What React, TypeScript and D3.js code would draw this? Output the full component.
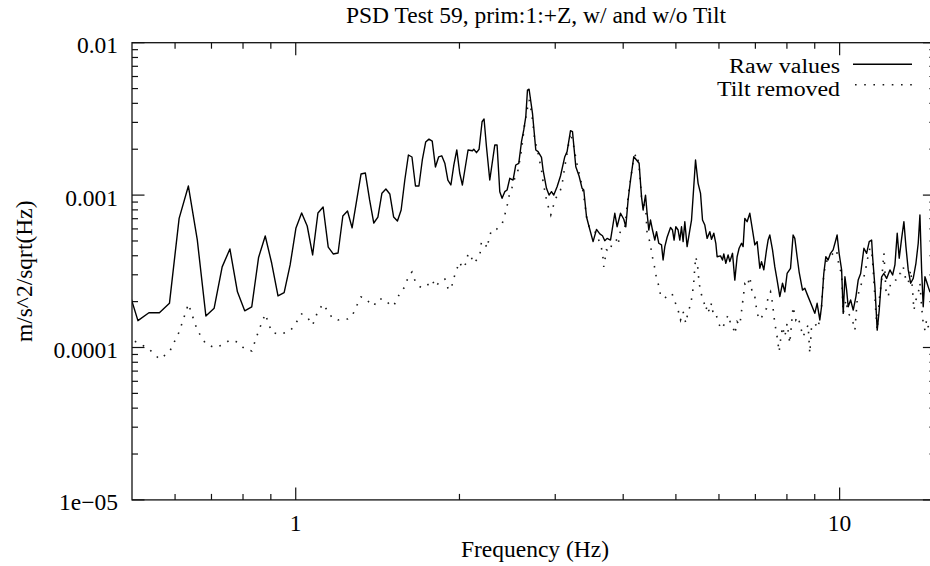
import React from "react";
import * as d3 from "d3";

// ---- Data ----
// Low-frequency part: FFT bins (df ≈ 0.0244 Hz) shared by both series
const lowFreq = [
  0.4883, 0.5127, 0.5371, 0.5615, 0.5859, 0.6104, 0.6348, 0.6592, 0.6836, 0.708,
  0.7324, 0.7568, 0.7813, 0.8057, 0.8301, 0.8545, 0.8789, 0.9033, 0.9277, 0.9521,
  0.9766, 1.001, 1.0254, 1.0498, 1.0742, 1.0986, 1.123, 1.1475, 1.1719, 1.1963,
  1.2207, 1.2451, 1.2695, 1.2939, 1.3184, 1.3428, 1.3672, 1.3916, 1.416, 1.4404,
  1.4648, 1.4893, 1.5137, 1.5381, 1.5625, 1.5869, 1.6113, 1.6357, 1.6602, 1.6846,
  1.709, 1.7334, 1.7578, 1.7822, 1.8066, 1.8311, 1.8555, 1.8799, 1.9043, 1.9287,
  1.9531, 1.9775, 2.002,
];
const rawLow = [
  2.64e-4, 1.5e-4, 1.69e-4, 1.69e-4, 1.95e-4, 7.04e-4, 1.147e-3, 5.08e-4, 1.61e-4, 1.81e-4,
  3.38e-4, 4.43e-4, 2.32e-4, 1.74e-4, 1.85e-4, 3.9e-4, 5.39e-4, 3.57e-4, 2.18e-4, 2.29e-4,
  3.48e-4, 6.09e-4, 7.63e-4, 6.27e-4, 4.05e-4, 7.63e-4, 8.35e-4, 4.56e-4, 4.11e-4, 4.17e-4,
  7.29e-4, 7.86e-4, 6.09e-4, 9.15e-4, 1.375e-3, 1.396e-3, 9.29e-4, 6.56e-4, 7.18e-4, 1.03e-3,
  1.096e-3, 1.017e-3, 7.18e-4, 6.76e-4, 7.98e-4, 1.256e-3, 1.833e-3, 1.778e-3, 1.147e-3, 1.147e-3,
  1.7e-3, 2.23e-3, 2.33e-3, 2.26e-3, 1.53e-3, 1.78e-3, 1.81e-3, 1.62e-3, 1.256e-3, 1.165e-3,
  1.58e-3, 1.98e-3, 1.396e-3,
];
const tiltLow = [
  1.154e-4, 1.078e-4, 9.78e-5, 8.4e-5, 9.34e-5, 1.264e-4, 1.93e-4, 1.3e-4, 1.054e-4, 1.0e-4,
  1.038e-4, 1.12e-4, 1.087e-4, 9.78e-5, 9.49e-5, 1.283e-4, 1.66e-4, 1.264e-4, 1.226e-4, 1.245e-4,
  1.283e-4, 1.448e-4, 1.66e-4, 1.585e-4, 1.405e-4, 1.735e-4, 1.93e-4, 1.71e-4, 1.537e-4, 1.515e-4,
  1.537e-4, 1.537e-4, 1.61e-4, 1.873e-4, 2.145e-4, 2.113e-4, 1.958e-4, 1.873e-4, 2.081e-4, 2.081e-4,
  2.05e-4, 1.9e-4, 1.873e-4, 2.113e-4, 2.35e-4, 2.49e-4, 2.94e-4, 3.13e-4, 2.69e-4, 2.53e-4,
  2.455e-4, 2.53e-4, 2.61e-4, 2.77e-4, 2.49e-4, 2.65e-4, 2.77e-4, 2.81e-4, 2.455e-4, 2.385e-4,
  2.86e-4, 3.27e-4, 3.64e-4,
];

// High-frequency part: vertices
const rawHiFreq = [
  2.025, 2.0742, 2.1133, 2.1249, 2.1495, 2.1732, 2.201, 2.2195, 2.2423, 2.2739,
  2.3226, 2.3453, 2.3723, 2.3955, 2.4231, 2.4468, 2.4749, 2.5096, 2.5386, 2.5708,
  2.6007, 2.6258, 2.6484, 2.6674, 2.6857, 2.7246, 2.763, 2.7898, 2.8305, 2.8495,
  2.891, 2.9227, 2.9528, 2.9815, 3.0237, 3.0676, 3.124, 3.1545, 3.2004, 3.2274,
  3.273, 3.3186, 3.3613, 3.3853, 3.4245, 3.4622, 3.5214, 3.5727, 3.623, 3.6645,
  3.7005, 3.7366, 3.791, 3.8606, 3.8983, 3.955, 4.0102, 4.0447, 4.084, 4.1261,
  4.1837, 4.2321, 4.2787, 4.3227, 4.3518, 4.3966, 4.4263, 4.4579, 4.4907, 4.5286,
  4.5731, 4.6061, 4.6508, 4.7047, 4.7364, 4.7709, 4.8175, 4.8875, 4.9287, 4.9618,
  4.9984, 5.0469, 5.0837, 5.1203, 5.1549, 5.1925, 5.2432, 5.3036, 5.3418, 5.3779,
  5.4333, 5.4928, 5.5495, 5.5963, 5.6513, 5.7065, 5.7722, 5.8138, 5.8702, 5.9208,
  5.9533, 6.0399, 6.0908, 6.1241, 6.1767, 6.2367, 6.2822, 6.3542, 6.4167, 6.4793,
  6.5343, 6.6013, 6.6458, 6.6942, 6.7595, 6.8374, 6.9158, 6.9837, 7.0519, 7.1331,
  7.1845, 7.2542, 7.3382, 7.3877, 7.4415, 7.5268, 7.6007, 7.6749, 7.7633, 7.8523,
  7.9294, 8.0068, 8.1233, 8.2124, 8.2722, 8.3529, 8.4236, 8.546, 8.63, 8.751,
  8.878, 9.0032, 9.0911, 9.1958, 9.262, 9.352, 9.4324, 9.524, 9.622, 9.7277,
  9.8402, 9.8942, 9.978, 10.085, 10.153, 10.227, 10.301, 10.37, 10.477, 10.592,
  10.714, 10.818, 10.931, 11.083, 11.211, 11.335, 11.451, 11.499, 11.612, 11.725,
  11.825, 11.946, 12.062, 12.201, 12.374, 12.516, 12.638, 12.761, 12.869, 13.002,
  13.128, 13.241, 13.37, 13.507, 13.656, 13.813, 13.948, 14.049, 14.15, 14.246,
  14.35, 14.453, 14.551, 14.656, 15.0,
];
const rawHi = [
  1.165e-3, 1.977e-3, 1.956e-3, 2.0e-3, 1.898e-3, 2.0e-3, 3.03e-3, 3.16e-3, 2.078e-3, 1.256e-3,
  2.13e-3, 2.13e-3, 1.053e-3, 0.953e-3, 1.053e-3, 1.08e-3, 1.289e-3, 1.256e-3, 1.576e-3, 1.617e-3,
  2.24e-3, 2.675e-3, 3.27e-3, 4.89e-3, 4.95e-3, 3.44e-3, 1.977e-3, 1.928e-3, 1.77e-3, 1.46e-3,
  1.108e-3, 1.0e-3, 1.053e-3, 1.0e-3, 1.135e-3, 1.334e-3, 1.786e-3, 1.928e-3, 2.645e-3, 2.61e-3,
  1.535e-3, 1.334e-3, 1.108e-3, 1.08e-3, 0.721e-3, 0.62e-3, 0.495e-3, 0.596e-3, 0.556e-3, 0.541e-3,
  0.502e-3, 0.52e-3, 0.507e-3, 0.76e-3, 0.62e-3, 0.76e-3, 0.694e-3, 0.62e-3, 0.929e-3, 1.256e-3,
  1.786e-3, 1.7e-3, 1.617e-3, 0.977e-3, 0.798e-3, 1.0e-3, 0.76e-3, 0.59e-3, 0.686e-3, 0.59e-3,
  0.507e-3, 0.575e-3, 0.483e-3, 0.471e-3, 0.375e-3, 0.459e-3, 0.529e-3, 0.613e-3, 0.59e-3, 0.507e-3,
  0.62e-3, 0.59e-3, 0.507e-3, 0.62e-3, 0.495e-3, 0.669e-3, 0.459e-3, 0.59e-3, 0.686e-3, 0.977e-3,
  1.7e-3, 1.195e-3, 1.027e-3, 0.686e-3, 0.636e-3, 0.52e-3, 0.575e-3, 0.513e-3, 0.562e-3, 0.483e-3,
  0.394e-3, 0.399e-3, 0.375e-3, 0.411e-3, 0.357e-3, 0.405e-3, 0.366e-3, 0.415e-3, 0.277e-3, 0.394e-3,
  0.448e-3, 0.483e-3, 0.459e-3, 0.704e-3, 0.669e-3, 0.76e-3, 0.59e-3, 0.471e-3, 0.495e-3, 0.331e-3,
  0.366e-3, 0.323e-3, 0.437e-3, 0.507e-3, 0.547e-3, 0.437e-3, 0.338e-3, 0.277e-3, 0.2157e-3, 0.264e-3,
  0.232e-3, 0.306e-3, 0.331e-3, 0.547e-3, 0.52e-3, 0.394e-3, 0.314e-3, 0.238e-3, 0.245e-3, 0.2157e-3,
  0.19e-3, 0.1675e-3, 0.195e-3, 0.1516e-3, 0.185e-3, 0.306e-3, 0.394e-3, 0.375e-3, 0.415e-3, 0.437e-3,
  0.507e-3, 0.547e-3, 0.415e-3, 0.323e-3, 0.1675e-3, 0.291e-3, 0.238e-3, 0.185e-3, 0.205e-3, 0.176e-3,
  0.2157e-3, 0.277e-3, 0.306e-3, 0.448e-3, 0.415e-3, 0.495e-3, 0.507e-3, 0.394e-3, 0.25e-3, 0.13e-3,
  0.176e-3, 0.291e-3, 0.306e-3, 0.284e-3, 0.323e-3, 0.299e-3, 0.348e-3, 0.562e-3, 0.385e-3, 0.52e-3,
  0.669e-3, 0.459e-3, 0.323e-3, 0.264e-3, 0.284e-3, 0.357e-3, 0.483e-3, 0.741e-3, 0.323e-3, 0.185e-3,
  0.291e-3, 0.27e-3, 0.25e-3, 0.232e-3, 0.26e-3,
];
const tiltHiFreq = [
  2.025, 2.0602, 2.0742, 2.0957, 2.1249, 2.1797, 2.1954, 2.2263, 2.248, 2.267,
  2.2903, 2.3393, 2.3955, 2.4231, 2.4468, 2.4675, 2.4991, 2.5279, 2.5633, 2.6007,
  2.6372, 2.6562, 2.6857, 2.7131, 2.7513, 2.7898, 2.8305, 2.8495, 2.891, 2.919,
  2.9442, 2.9727, 3.0072, 3.0676, 3.0936, 3.124, 3.1545, 3.2004, 3.245, 3.2826,
  3.3288, 3.3669, 3.4, 3.4245, 3.4622, 3.5727, 3.6491, 3.6737, 3.6845, 3.7271,
  3.7797, 3.823, 3.8884, 3.9147, 3.955, 4.0276, 4.084, 4.1261, 4.1837, 4.2429,
  4.2787, 4.3227, 4.4021, 4.4263, 4.4773, 4.5095, 4.54, 4.5731, 4.6061, 4.6568,
  4.6908, 4.7709, 4.8729, 4.9287, 4.9921, 5.0469, 5.099, 5.1549, 5.2146, 5.2652,
  5.3195, 5.3644, 5.3937, 5.417, 5.44, 5.4793, 5.5161, 5.5727, 5.6269, 5.6753,
  5.7163, 5.7548, 5.8138, 5.853, 5.9208, 5.9782, 6.0652, 6.1506, 6.2367, 6.3011,
  6.3542, 6.4167, 6.4793, 6.554, 6.6291, 6.6942, 6.7595, 6.8374, 6.9158, 6.9837,
  7.0519, 7.1331, 7.2331, 7.3382, 7.3877, 7.4638, 7.5268, 7.6007, 7.6749, 7.7398,
  7.7866, 7.8523, 7.9294, 8.0068, 8.099, 8.1573, 8.2124, 8.3074, 8.388, 8.4745,
  8.5675, 8.6667, 8.751, 8.8146, 8.878, 9.0032, 9.1293, 9.262, 9.352, 9.4601,
  9.5934, 9.7277, 9.8692, 9.978, 10.085, 10.153, 10.27, 10.37, 10.477, 10.592,
  10.669, 10.773, 10.864, 10.976, 11.131, 11.24, 11.369, 11.451, 11.528, 11.661,
  11.725, 11.825, 11.946, 12.062, 12.165, 12.284, 12.411, 12.547, 12.692, 12.815,
  12.948, 13.09, 13.241, 13.37, 13.507, 13.621, 13.696, 13.813, 13.948, 14.049,
  14.15, 14.246, 14.35, 14.453, 14.551, 14.656, 15.0,
];
const tiltHi = [
  0.331e-3, 0.36e-3, 0.415e-3, 0.403e-3, 0.357e-3, 0.399e-3, 0.495e-3, 0.487e-3, 0.448e-3, 0.52e-3,
  0.59e-3, 0.596e-3, 0.646e-3, 0.741e-3, 0.848e-3, 0.987e-3, 1.125e-3, 1.289e-3, 1.46e-3, 1.977e-3,
  2.96e-3, 3.44e-3, 4.21e-3, 3.52e-3, 2.3e-3, 1.88e-3, 1.46e-3, 1.224e-3, 0.929e-3, 0.819e-3,
  0.741e-3, 0.839e-3, 0.953e-3, 1.08e-3, 1.224e-3, 1.535e-3, 1.88e-3, 2.57e-3, 2.078e-3, 1.656e-3,
  1.334e-3, 1.108e-3, 0.884e-3, 0.721e-3, 0.62e-3, 0.562e-3, 0.448e-3, 0.385e-3, 0.338e-3, 0.437e-3,
  0.425e-3, 0.495e-3, 0.507e-3, 0.471e-3, 0.59e-3, 0.606e-3, 0.977e-3, 1.256e-3, 1.786e-3, 1.862e-3,
  1.535e-3, 0.977e-3, 0.798e-3, 0.562e-3, 0.495e-3, 0.425e-3, 0.372e-3, 0.331e-3, 0.284e-3, 0.25e-3,
  0.2157e-3, 0.2105e-3, 0.227e-3, 0.2215e-3, 0.195e-3, 0.176e-3, 0.1516e-3, 0.1718e-3, 0.1442e-3, 0.1718e-3,
  0.19e-3, 0.227e-3, 0.27e-3, 0.338e-3, 0.394e-3, 0.348e-3, 0.264e-3, 0.2215e-3, 0.2e-3, 0.176e-3,
  0.19e-3, 0.1718e-3, 0.195e-3, 0.1675e-3, 0.169e-3, 0.1457e-3, 0.132e-3, 0.1442e-3, 0.1636e-3, 0.1442e-3,
  0.1404e-3, 0.1226e-3, 0.1477e-3, 0.1404e-3, 0.195e-3, 0.261e-3, 0.25e-3, 0.291e-3, 0.2215e-3, 0.2157e-3,
  0.1675e-3, 0.1516e-3, 0.1636e-3, 0.181e-3, 0.2157e-3, 0.232e-3, 0.195e-3, 0.1442e-3, 0.1176e-3, 0.938e-4,
  1.12e-4, 1.369e-4, 1.177e-4, 1.441e-4, 1.065e-4, 1.441e-4, 1.852e-4, 1.515e-4, 1.593e-4, 1.369e-4,
  1.177e-4, 1.3e-4, 1.405e-4, 0.916e-4, 1.369e-4, 1.441e-4, 1.337e-4, 1.852e-4, 0.306e-3, 0.366e-3,
  0.394e-3, 0.415e-3, 0.437e-3, 0.338e-3, 0.306e-3, 0.1675e-3, 0.205e-3, 0.1675e-3, 0.1597e-3, 0.1442e-3,
  0.13e-3, 0.205e-3, 0.238e-3, 0.264e-3, 0.306e-3, 0.375e-3, 0.448e-3, 0.437e-3, 0.323e-3, 0.1675e-3,
  0.13e-3, 0.205e-3, 0.277e-3, 0.415e-3, 0.238e-3, 0.2157e-3, 0.264e-3, 0.277e-3, 0.277e-3, 0.306e-3,
  0.306e-3, 0.338e-3, 0.277e-3, 0.264e-3, 0.323e-3, 0.238e-3, 0.176e-3, 0.205e-3, 0.227e-3, 0.264e-3,
  0.185e-3, 0.1442e-3, 0.13e-3, 0.1516e-3, 0.137e-3, 0.13e-3, 0.14e-3,
];

const xMajorTicks = [1, 10];
const xMajorLabels = ["1", "10"];
const xMinorTicks = [0.6, 0.7, 0.8, 0.9, 2, 3, 4, 5, 6, 7, 8, 9];
const yMajorTicks = [1e-5, 1e-4, 1e-3, 1e-2];
const yMajorLabels = ["1e\u221205", "0.0001", "0.001", "0.01"];
const yMinorMultipliers = [2, 3, 4, 5, 6, 7, 8, 9];

const titleText = "PSD Test 59, prim:1:+Z, w/ and w/o Tilt";
const xLabelText = "Frequency (Hz)";
const yLabelText = "m/s^2/sqrt(Hz)";
const legendLabels = ["Raw values", "Tilt removed"];

// ---- Layout ----
const W = 930;
const H = 566;
const L = 132;
const R = 935.4;
const T = 42.7;
const B = 499.9;
const FONT = "'Liberation Serif', 'Times New Roman', serif";
const FS = 23.5;
const LEG_FS = 20.5;

export default function App() {
  const x = d3.scaleLog().domain([0.5, 15]).range([L, R]);
  const y = d3.scaleLog().domain([1e-5, 1e-2]).range([B, T]);

  const rawVals = [...rawLow, ...rawHi];
  const tiltVals = [...tiltLow, ...tiltHi];
  const rawPts: [number, number][] = [...lowFreq, ...rawHiFreq].map((f, i) => [f, rawVals[i]]);
  const tiltPts: [number, number][] = [...lowFreq, ...tiltHiFreq].map((f, i) => [f, tiltVals[i]]);

  const line = d3
    .line<[number, number]>()
    .x((d) => x(d[0]))
    .y((d) => y(d[1]));

  const yMinor: number[] = [];
  yMajorTicks.slice(0, 3).forEach((dec) =>
    yMinorMultipliers.forEach((m) => yMinor.push(dec * m))
  );

  const tickColor = "#111";
  const MAJ = 12.5;
  const MIN = 6;

  return (
    <svg
      width={W}
      height={H}
      viewBox={`0 0 ${W} ${H}`}
      style={{ position: "absolute", left: 0, top: 0, background: "#fff" }}
      fontFamily={FONT}
    >
      <defs>
        <clipPath id="plotclip">
          <rect x={L} y={T} width={R - L} height={B - T} />
        </clipPath>
      </defs>
      <rect x={0} y={0} width={W} height={H} fill="#fff" />

      {/* ticks */}
      <g stroke={tickColor} strokeWidth={1.2}>
        {xMajorTicks.map((t) => (
          <g key={"xM" + t}>
            <line x1={x(t)} x2={x(t)} y1={B} y2={B - MAJ} />
            <line x1={x(t)} x2={x(t)} y1={T} y2={T + MAJ} />
          </g>
        ))}
        {xMinorTicks.map((t) => (
          <g key={"xm" + t}>
            <line x1={x(t)} x2={x(t)} y1={B} y2={B - MIN} />
            <line x1={x(t)} x2={x(t)} y1={T} y2={T + MIN} />
          </g>
        ))}
        {yMajorTicks.map((t) => (
          <g key={"yM" + t}>
            <line x1={L} x2={L + MAJ} y1={y(t)} y2={y(t)} />
            <line x1={R} x2={R - MAJ} y1={y(t)} y2={y(t)} />
          </g>
        ))}
        {yMinor.map((t) => (
          <g key={"ym" + t}>
            <line x1={L} x2={L + MIN} y1={y(t)} y2={y(t)} />
            <line x1={R} x2={R - MIN} y1={y(t)} y2={y(t)} />
          </g>
        ))}
      </g>

      {/* data */}
      <g clipPath="url(#plotclip)" fill="none">
        <path
          d={line(tiltPts) || ""}
          stroke="#1a1a1a"
          strokeWidth={1.6}
          strokeDasharray="1.6 7.4"
        />
        <path d={line(rawPts) || ""} stroke="#000" strokeWidth={1.4} strokeLinejoin="round" />
      </g>

      {/* frame */}
      <rect x={L} y={T} width={R - L} height={B - T} fill="none" stroke={tickColor} strokeWidth={1.3} />

      {/* tick labels */}
      <g fontSize={FS} fill="#000">
        {yMajorTicks.map((t, i) => (
          <text key={"yl" + t} x={118} y={y(t) + 10.5} textAnchor="end">
            {yMajorLabels[i]}
          </text>
        ))}
        {xMajorTicks.map((t, i) => (
          <text key={"xl" + t} x={x(t)} y={530.5} textAnchor="middle">
            {xMajorLabels[i]}
          </text>
        ))}
      </g>

      {/* title and axis labels */}
      <text x={536} y={23} textAnchor="middle" fontSize={FS} fill="#000">
        {titleText}
      </text>
      <text x={535} y={557} textAnchor="middle" fontSize={FS} fill="#000">
        {xLabelText}
      </text>
      <text
        transform={`translate(31.5, ${(T + B) / 2}) rotate(-90)`}
        textAnchor="middle"
        fontSize={FS}
        fill="#000"
      >
        {yLabelText}
      </text>

      {/* legend */}
      <g fontSize={LEG_FS} fill="#000">
        <text
          x={840}
          y={73}
          textAnchor="end"
          textLength={111}
          lengthAdjust="spacingAndGlyphs"
        >
          {legendLabels[0]}
        </text>
        <text
          x={840}
          y={95.5}
          textAnchor="end"
          textLength={123}
          lengthAdjust="spacingAndGlyphs"
        >
          {legendLabels[1]}
        </text>
      </g>
      <line x1={853} x2={912} y1={64.3} y2={64.3} stroke="#000" strokeWidth={1.4} />
      <line
        x1={855}
        x2={914}
        y1={84.7}
        y2={84.7}
        stroke="#1a1a1a"
        strokeWidth={1.6}
        strokeDasharray="1.6 7.6"
      />
    </svg>
  );
}
